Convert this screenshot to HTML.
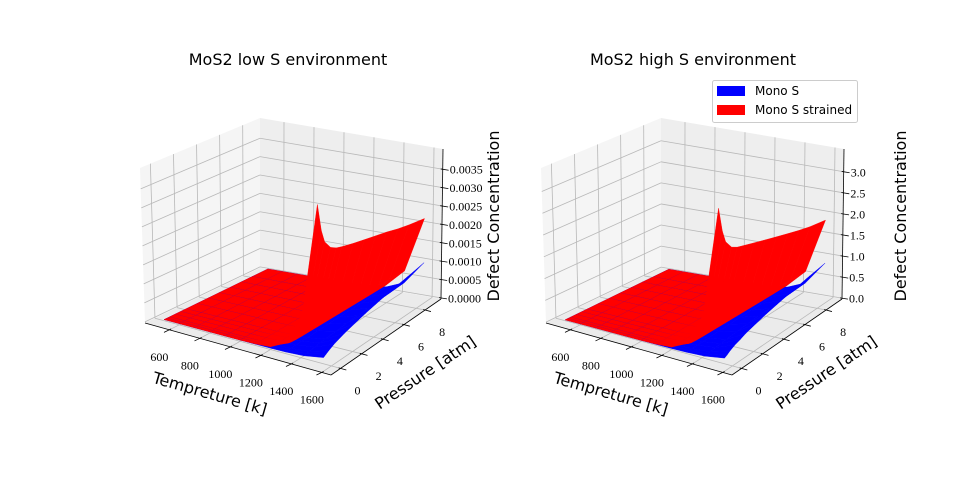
<!DOCTYPE html>
<html><head><meta charset="utf-8"><style>
html,body{margin:0;padding:0;background:#fff}
svg{display:block}
.tk{font-family:"Liberation Serif","DejaVu Serif",serif;font-size:12px;fill:#000}
.lb{font-family:"DejaVu Sans","Liberation Sans",sans-serif;font-size:16px;fill:#000}
.tt{font-family:"DejaVu Sans","Liberation Sans",sans-serif;font-size:16px;fill:#000}
.lg{font-family:"DejaVu Sans","Liberation Sans",sans-serif;font-size:12px;fill:#000}
</style></head><body>
<svg id="fig" width="960" height="480" viewBox="0 0 960 480" xmlns="http://www.w3.org/2000/svg">
<rect width="960" height="480" fill="#fff"/>
<text class="tt" x="288" y="65" text-anchor="middle">MoS2 low S environment</text>
<text class="tt" x="693" y="65" text-anchor="middle">MoS2 high S environment</text>
<g id="left"></g>
<g id="right"></g>
<g>
<rect x="712.5" y="80.5" width="145" height="42" rx="2" fill="#fff" fill-opacity="0.8" stroke="#ccc"/>
<rect x="717" y="86" width="28" height="10" fill="#0000ff"/>
<text class="lg" x="755" y="95">Mono S</text>
<rect x="717" y="105" width="28" height="10" fill="#ff0000"/>
<text class="lg" x="755" y="114">Mono S strained</text>
</g>
</svg>
<script>
// ---- data ----
const temps = [500,600,700,800,900,1000,1100,1200,1300,1420,1550];
const pressures = [0,0.25,0.5,1,1.5,2,3,4,5,6,7,8,9.4];
const tTicks = [600,800,1000,1200,1400,1600];
const pTicks = [0,2,4,6,8];
const zTicksLow = [0,0.0005,0.001,0.0015,0.002,0.0025,0.003,0.0035];
const zTickLabelsLow = ["0.0000","0.0005","0.0010","0.0015","0.0020","0.0025","0.0030","0.0035"];
const zTicksHigh = [0,0.5,1,1.5,2,2.5,3];
const zTickLabelsHigh = ["0.0","0.5","1.0","1.5","2.0","2.5","3.0"];
// value at highest temperature along pressure
const redProfileLow = [0.00375,0.0031,0.0028,0.0026,0.00252,0.00248,0.00242,0.00237,0.00232,0.00227,0.0022,0.00215,0.0021];
const blueProfileLow = [0.00012,0.00016,0.0002,0.00027,0.00032,0.00037,0.00045,0.00053,0.0006,0.00067,0.00074,0.0008,0.0009];
const redProfileHigh = [3.2,2.7,2.45,2.28,2.22,2.19,2.13,2.07,2.01,1.95,1.89,1.84,1.8];
const blueProfileHigh = [0.1,0.13,0.17,0.23,0.27,0.32,0.39,0.46,0.52,0.58,0.64,0.7,0.78];
// relative temperature dependence
const redTFactor = [0,0,0,0,0,0,0.002,0.01,0.06,0.28,1];
const blueTFactor = [0,0,0,0,0,0,0.003,0.02,0.08,0.3,1];

const NS='http://www.w3.org/2000/svg';
const T0=440,T1=1660,P0=-0.9,P1=9.5;
function mk(tag,attrs,parent){const e=document.createElementNS(NS,tag);for(const k in attrs)e.setAttribute(k,attrs[k]);parent.appendChild(e);return e;}

function drawPanel(gid,dx,Z0,Z1,zTicks,zLabels,redProf,blueProf,zx){
  const g=document.getElementById(gid);
  const F={A:[145+dx,323],B:[331+dx,375],C:[441+dx,299],D:[260+dx,268]};
  const U={A:[140+dx,168],B:[323+dx,199],C:[443+dx,149],D:[260+dx,118]};
  function bil(S,t,p){return [S.A[0]*(1-t)*(1-p)+S.B[0]*t*(1-p)+S.C[0]*t*p+S.D[0]*(1-t)*p,
                             S.A[1]*(1-t)*(1-p)+S.B[1]*t*(1-p)+S.C[1]*t*p+S.D[1]*(1-t)*p];}
  function pr(T,P,Zv){const t=(T-T0)/(T1-T0),p=(P-P0)/(P1-P0),z=(Zv-Z0)/(Z1-Z0);
    const f=bil(F,t,p),u=bil(U,t,p);return [f[0]+z*(u[0]-f[0]),f[1]+z*(u[1]-f[1])];}
  const pts=a=>a.map(q=>q[0].toFixed(2)+','+q[1].toFixed(2)).join(' ');
  let e;
  e=mk('polygon',{points:pts([pr(T0,P0,Z0),pr(T0,P1,Z0),pr(T0,P1,Z1),pr(T0,P0,Z1)]),fill:'#f5f5f5'},g);
  
  e=mk('polygon',{points:pts([pr(T0,P1,Z0),pr(T1,P1,Z0),pr(T1,P1,Z1),pr(T0,P1,Z1)]),fill:'#eeeeee'},g);
  
  e=mk('polygon',{points:pts([pr(T0,P0,Z0),pr(T1,P0,Z0),pr(T1,P1,Z0),pr(T0,P1,Z0)]),fill:'#ebebeb'},g);
  
  const gs={stroke:'#b8b8b8','stroke-width':0.8,fill:'none'};
  function line(a,b,st,name){const l=mk('line',Object.assign({x1:a[0],y1:a[1],x2:b[0],y2:b[1]},st),g);
    
    return l;}
  tTicks.forEach(T=>{line(pr(T,P0,Z0),pr(T,P1,Z0),gs,'floor-gridline-t');line(pr(T,P1,Z0),pr(T,P1,Z1),gs,'back-gridline-t');});
  pTicks.forEach(P=>{line(pr(T0,P,Z0),pr(T1,P,Z0),gs,'floor-gridline-p');line(pr(T0,P,Z0),pr(T0,P,Z1),gs,'wall-gridline-p');});
  zTicks.forEach(z=>{line(pr(T0,P0,z),pr(T0,P1,z),gs,'wall-gridline-z');line(pr(T0,P1,z),pr(T1,P1,z),gs,'back-gridline-z');});
  const polys=[];
  function addSurf(prof,fac,color,name){
    for(let i=0;i<temps.length-1;i++)for(let j=0;j<pressures.length-1;j++){
      const c=[[i,j],[i+1,j],[i+1,j+1],[i,j+1]].map(([a,b])=>[temps[a],pressures[b],prof[b]*fac[a]]);
      let key=0;c.forEach(q=>{const t=(q[0]-T0)/(T1-T0),p=(q[1]-P0)/(P1-P0),z=(q[2]-Z0)/(Z1-Z0);key+=0.87*(0.5*t-0.87*p)+0.5*z;});
      polys.push({c,key:key/4,color,name,ser:color==='#0000ff'?0:1});
    }}
  addSurf(blueProf,blueTFactor,'#0000ff','mono-s');
  addSurf(redProf,redTFactor,'#ff0000','mono-s-strained');
  polys.sort((a,b)=>(a.key-b.key)||(a.ser-b.ser));
  polys.forEach(q=>{const p=mk('polygon',{points:pts(q.c.map(v=>pr(v[0],v[1],v[2]))),fill:q.color,stroke:q.color,'stroke-width':0.4,'stroke-linejoin':'round'},g);
    
    });
  const ax={stroke:'#000','stroke-width':0.8};
  line(pr(T0,P0,Z0),pr(T1,P0,Z0),ax,'t-axis-line');
  line(pr(T1,P0,Z0),pr(T1,P1,Z0),ax,'p-axis-line');
  line(pr(T1,P1,Z0),pr(T1,P1,Z1),ax,'z-axis-line');
  tTicks.forEach(T=>{const a=pr(T,P0,Z0);line([a[0]+1.8,a[1]-0.9],[a[0]-5.4,a[1]+2.6],ax,'t-tick');
    const t=mk('text',{x:a[0]-10,y:a[1]+31,'text-anchor':'middle',class:'tk'},g);t.textContent=String(T);
    });
  pTicks.forEach(P=>{const a=pr(T1,P,Z0);line([a[0]-1.9,a[1]-0.5],[a[0]+5.8,a[1]+1.6],ax,'p-tick');
    const t=mk('text',{x:a[0]+17,y:a[1]+26,'text-anchor':'middle',class:'tk'},g);t.textContent=String(P);
    });
  zTicks.forEach((z,k)=>{const a=pr(T1,P1,z);line([a[0]-2,a[1]-0.3],[a[0]+5.9,a[1]+1],ax,'z-tick');
    const t=mk('text',{x:a[0]+7,y:a[1]+4.5,class:'tk'},g);t.textContent=zLabels[k];
    });
  let t;
  t=mk('text',{x:210+dx,y:399,'text-anchor':'middle',class:'lb',transform:`rotate(16 ${210+dx} 393)`},g);t.textContent='Tempreture [k]';
  
  t=mk('text',{x:425+dx,y:378,'text-anchor':'middle',class:'lb',transform:`rotate(-34 ${425+dx} 372)`},g);t.textContent='Pressure [atm]';
  
  t=mk('text',{x:zx,y:222,'text-anchor':'middle',class:'lb',transform:`rotate(-90 ${zx-6} 222)`},g);t.textContent='Defect Concentration';
  
}
drawPanel('left',0,-0.00003,0.00405,zTicksLow,zTickLabelsLow,redProfileLow,blueProfileLow,505);
drawPanel('right',401,-0.02,3.54,zTicksHigh,zTickLabelsHigh,redProfileHigh,blueProfileHigh,912);
</script>
</body></html>
